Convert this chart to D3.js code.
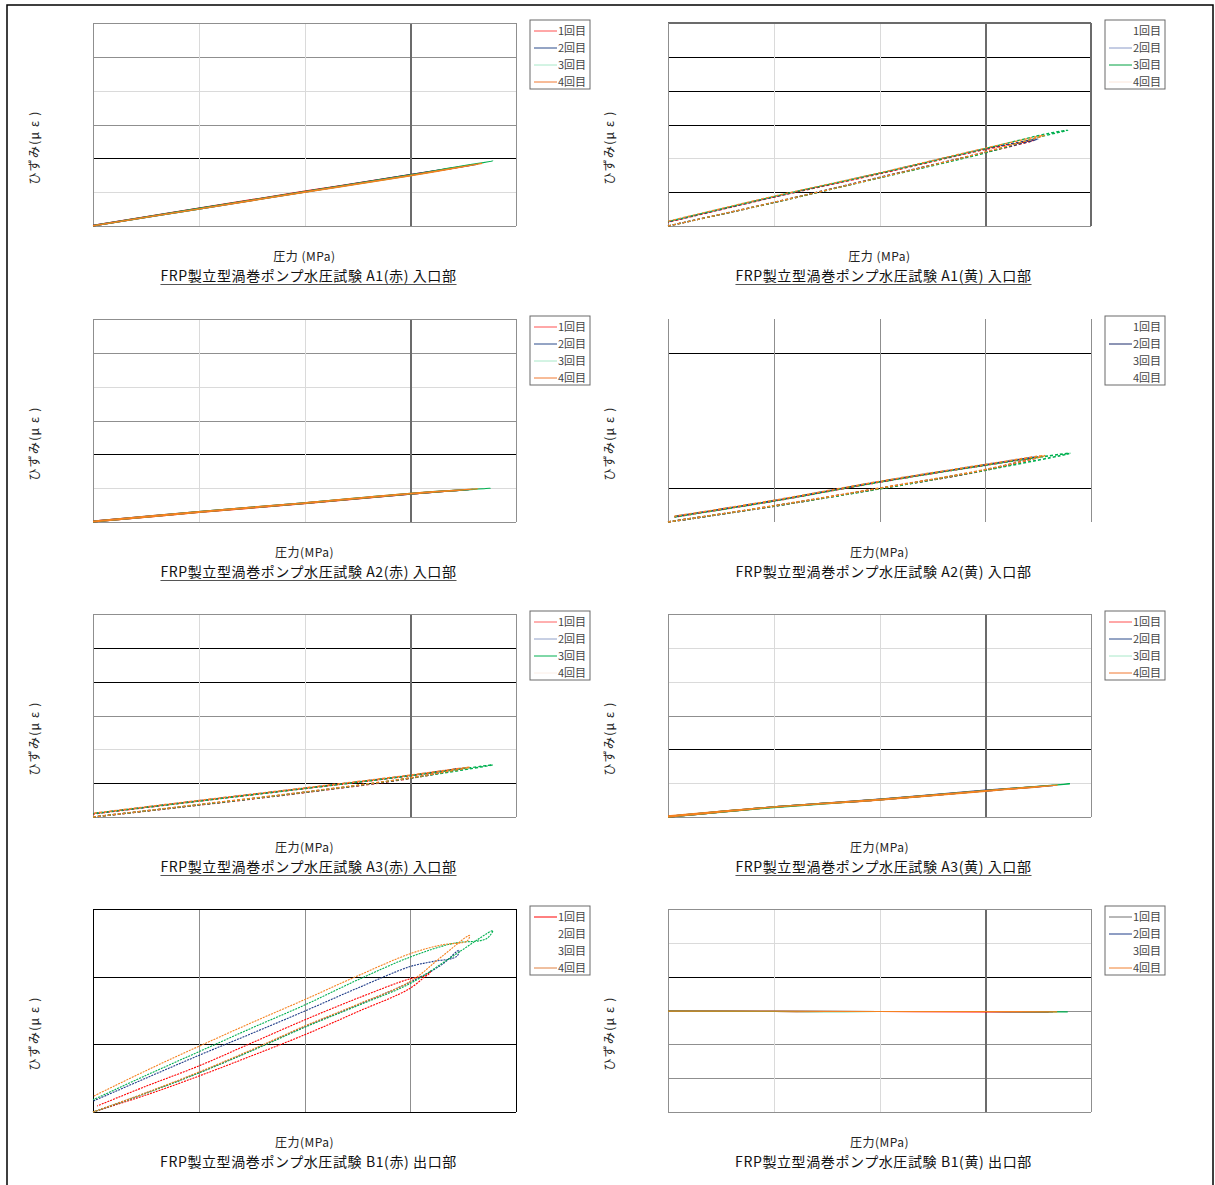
<!DOCTYPE html>
<html><head><meta charset="utf-8">
<script src="https://cdn.jsdelivr.net/npm/d3@7"></script>
<style>
body{margin:0;background:#fff}
svg{display:block}
text{font-family:"Noto Sans CJK JP","Noto Sans",sans-serif}
</style></head><body>
<svg id="c" width="1215" height="1185"></svg>
<script>
// ---- data: pressure (MPa) vs strain (με), one loop (load → unload) per run ----
const runNames = ["1回目", "2回目", "3回目", "4回目"];
const pressureDomain = [0, 2.0];
const pressureTicks = [0.5, 1.0, 1.5];

const titles = [
  "FRP製立型渦巻ポンプ水圧試験 A1(赤) 入口部",
  "FRP製立型渦巻ポンプ水圧試験 A1(黄) 入口部",
  "FRP製立型渦巻ポンプ水圧試験 A2(赤) 入口部",
  "FRP製立型渦巻ポンプ水圧試験 A2(黄) 入口部",
  "FRP製立型渦巻ポンプ水圧試験 A3(赤) 入口部",
  "FRP製立型渦巻ポンプ水圧試験 A3(黄) 入口部",
  "FRP製立型渦巻ポンプ水圧試験 B1(赤) 出口部",
  "FRP製立型渦巻ポンプ水圧試験 B1(黄) 出口部"
];
const xLabels = ["圧力 (MPa)", "圧力 (MPa)", "圧力(MPa)", "圧力(MPa)", "圧力(MPa)", "圧力(MPa)", "圧力(MPa)", "圧力(MPa)"];
const yLabel = "ひずみ(μ ε )";

const strainDomains = [[0,600],[0,600],[0,600],[0,600],[0,600],[0,600],[0,1500],[-300,300]];
const strainTicks = [
  [100,200,300,400,500],[100,200,300,400,500],[100,200,300,400,500],[100,200,300,400,500],
  [100,200,300,400,500],[100,200,300,400,500],[500,1000],[-200,-100,0,100,200]
];

const a1Red = [
  [[0,0],[0.5,51],[1.0,101],[1.5,150],[1.80,181],[1.5,152],[1.0,103],[0.5,53],[0,2]],
  [[0,0],[0.5,50],[1.0,100],[1.5,150],[1.82,183],[1.5,152],[1.0,102],[0.5,52],[0,2]],
  [[0,0],[0.5,50],[1.0,100],[1.5,149],[1.70,171],[1.89,192],[1.70,173],[1.5,151],[1.0,102],[0.5,52],[0,1]],
  [[0,0],[0.5,50],[1.0,99],[1.5,148],[1.84,185],[1.5,150],[1.0,101],[0.5,51],[0,1]]
];
const a1Yellow = [
  [[0,0],[0.5,69],[1.0,143],[1.5,217],[1.73,253],[1.5,226],[1.0,154],[0.5,85],[0,11]],
  [[0,0],[0.5,70],[1.0,144],[1.5,218],[1.75,257],[1.5,228],[1.0,156],[0.5,86],[0,12]],
  [[0,0],[0.5,69],[1.0,142],[1.5,216],[1.75,262],[1.89,283],[1.80,274],[1.5,229],[1.0,156],[0.5,87],[0,13]],
  [[0,0],[0.5,70],[1.0,143],[1.5,219],[1.78,268],[1.5,230],[1.0,157],[0.5,88],[0,14]]
];
const a2Red = [
  [[0,0],[0.5,28],[1.0,54],[1.5,82],[1.78,96],[1.5,84],[1.0,56],[0.5,30],[0,3]],
  [[0,0],[0.5,29],[1.0,55],[1.5,82],[1.80,97],[1.5,84],[1.0,57],[0.5,31],[0,3]],
  [[0,0],[0.5,29],[1.0,55],[1.5,83],[1.88,100],[1.5,85],[1.0,57],[0.5,31],[0,2]],
  [[0,0],[0.5,28],[1.0,55],[1.5,83],[1.82,98],[1.5,85],[1.0,57],[0.5,31],[0,3]]
];
const a2Yellow = [
  [[0,0],[0.5,47],[1.0,99],[1.5,153],[1.72,188],[1.5,168],[1.0,118],[0.5,62],[0.03,15]],
  [[0,0],[0.5,47],[1.0,99],[1.5,154],[1.75,192],[1.5,169],[1.0,119],[0.5,63],[0.03,16]],
  [[0,0],[0.5,47],[1.0,98],[1.5,153],[1.90,203],[1.5,168],[1.0,118],[0.5,62],[0.03,15]],
  [[0,0],[0.5,48],[1.0,100],[1.5,155],[1.78,196],[1.5,170],[1.0,120],[0.5,64],[0.03,17]]
];
const a3Red = [
  [[0,0],[0.5,35],[1.0,72],[1.5,114],[1.74,143],[1.5,122],[1.0,84],[0.5,47],[0,9]],
  [[0,0],[0.5,36],[1.0,73],[1.5,115],[1.76,145],[1.5,123],[1.0,85],[0.5,48],[0,10]],
  [[0,0],[0.5,36],[1.0,73],[1.5,115],[1.89,154],[1.5,122],[1.0,84],[0.5,47],[0,10]],
  [[0,0],[0.5,37],[1.0,74],[1.5,116],[1.78,147],[1.5,124],[1.0,86],[0.5,49],[0,11]]
];
const a3Yellow = [
  [[0,0],[0.5,29],[1.0,51],[1.5,77],[1.80,92],[1.5,78],[1.0,52],[0.5,30],[0,2]],
  [[0,0],[0.5,29],[1.0,51],[1.5,77],[1.82,93],[1.5,79],[1.0,53],[0.5,30],[0,2]],
  [[0,0],[0.5,28],[1.0,51],[1.5,77],[1.90,98],[1.5,78],[1.0,52],[0.5,30],[0,2]],
  [[0,0],[0.5,29],[1.0,50],[1.5,76],[1.84,94],[1.5,78],[1.0,52],[0.5,30],[0,3]]
];
const b1Red = [
  [[0,0],[0.25,125],[0.5,265],[0.75,415],[1.0,570],[1.25,740],[1.5,915],[1.60,1045],
   [1.58,1010],[1.5,985],[1.25,840],[1.0,680],[0.75,510],[0.5,340],[0.25,190],[0.02,45]],
  [[0,0],[0.25,140],[0.5,290],[0.75,455],[1.0,630],[1.25,790],[1.5,960],[1.65,1090],[1.73,1195],
   [1.72,1150],[1.6,1110],[1.5,1075],[1.25,915],[1.0,745],[0.75,580],[0.5,418],[0.25,250],[0,80]],
  [[0,0],[0.25,138],[0.5,288],[0.75,452],[1.0,625],[1.25,785],[1.5,950],[1.7,1150],[1.89,1340],
   [1.86,1280],[1.7,1245],[1.5,1145],[1.25,975],[1.0,790],[0.75,620],[0.5,445],[0.25,270],[0,90]],
  [[0,0],[0.25,142],[0.5,295],[0.75,460],[1.0,635],[1.25,795],[1.5,965],[1.65,1150],[1.78,1305],
   [1.77,1265],[1.65,1235],[1.5,1170],[1.25,1005],[1.0,830],[0.75,660],[0.5,485],[0.25,305],[0,115]]
];
const b1Yellow = [
  [[0,-2],[0.5,-3],[1.0,-3],[1.5,-4],[1.80,-4],[1.5,-4],[1.0,-3],[0.5,-3],[0,-2]],
  [[0,-2],[0.5,-2],[1.0,-3],[1.5,-3],[1.82,-4],[1.5,-3],[1.0,-3],[0.5,-2],[0,-2]],
  [[0,-2],[0.5,-3],[1.0,-3],[1.5,-3],[1.89,-4],[1.5,-3],[1.0,-3],[0.5,-3],[0,-2]],
  [[0,-2],[0.5,-2],[1.0,-3],[1.5,-3],[1.84,-4],[1.5,-3],[1.0,-3],[0.5,-2],[0,-2]]
];
const panelData = [a1Red, a1Yellow, a2Red, a2Yellow, a3Red, a3Yellow, b1Red, b1Yellow];

// ---- appearance ----
const runColors = ["#ff0000", "#1f3c88", "#00b050", "#f58220"];
// line codes: K black, D dark grey (heavy), G grey, L light grey, N none
const lineStyles = {
  K: {c: "#000", w: 1}, D: {c: "#6b6b6b", w: 1.8}, G: {c: "#8f8f8f", w: 1},
  L: {c: "#dadada", w: 1}, N: null
};
const panelStyles = [
  {h: "LKGLG", v: "LLD", top: "G", right: "G", left: "G", bottom: "G", dash: null, lw: 1.1,
   legend: ["#ff5050", "#2a4a8a", "#a8e8c8", "#f07830"]},
  {h: "KLKKK", v: "LLD", top: "D", right: "D", left: "G", bottom: "G", dash: "3,2", lw: 1.3,
   legend: [null, "#8a9ac8", "#00a040", "#fbe6da"]},
  {h: "LKGLG", v: "LLD", top: "G", right: "G", left: "G", bottom: "G", dash: null, lw: 1.1,
   legend: ["#ff5050", "#2a4a8a", "#a8e8c8", "#f07830"]},
  {h: "KNNNK", v: "GGG", top: "N", right: "G", left: "G", bottom: "N", dash: "3,2", lw: 1.6,
   legend: [null, "#1a2a6a", null, null]},
  {h: "KLGKK", v: "LLD", top: "G", right: "G", left: "G", bottom: "G", dash: "3,2", lw: 1.4,
   legend: ["#ff6060", "#90a0c8", "#00b050", "#fbeee6"]},
  {h: "LKGLL", v: "LLD", top: "G", right: "G", left: "G", bottom: "G", dash: null, lw: 1.3,
   legend: ["#ff5050", "#2a4a8a", "#a8e8c8", "#f07830"]},
  {h: "KK", v: "GGG", top: "K", right: "K", left: "K", bottom: "K", dash: "2,1", lw: 1.1,
   legend: ["#ff0000", null, null, "#e08040"]},
  {h: "GGGKL", v: "LLD", top: "G", right: "G", left: "G", bottom: "G", dash: null, lw: 1.2,
   legend: ["#707070", "#1f3c88", null, "#f08030"]}
];
const underlined = [true, true, true, false, true, true, false, false];

const W = 423, H = 203;
const colX = [93, 668];
const rowY = [23, 319, 614, 909];

const svg = d3.select("#c");
svg.append("rect").attr("x", 7).attr("y", 5).attr("width", 1206).attr("height", 1200)
  .attr("fill", "none").attr("stroke", "#000").attr("stroke-width", 1.5);

function styleLine(sel, code) {
  const s = lineStyles[code];
  if (!s) { sel.attr("stroke", "none"); return; }
  sel.attr("stroke", s.c).attr("stroke-width", s.w).attr("shape-rendering", "crispEdges");
}

panelData.forEach((runs, i) => {
  const st = panelStyles[i];
  const px = colX[i % 2], py = rowY[Math.floor(i / 2)];
  const x = d3.scaleLinear().domain(pressureDomain).range([0, W]);
  const y = d3.scaleLinear().domain(strainDomains[i]).range([H, 0]);
  const g = svg.append("g").attr("transform", `translate(${px},${py})`);

  // horizontal grid
  const gy = g.append("g")
    .call(d3.axisLeft(y).tickValues(strainTicks[i]).tickSize(-W).tickFormat(""));
  gy.select(".domain").remove();
  gy.selectAll(".tick line").each(function (d, j) { styleLine(d3.select(this), st.h[j]); });

  // vertical grid
  const gx = g.append("g").attr("transform", `translate(0,${H})`)
    .call(d3.axisBottom(x).tickValues(pressureTicks).tickSize(-H).tickFormat(""));
  gx.select(".domain").remove();
  gx.selectAll(".tick line").each(function (d, j) { styleLine(d3.select(this), st.v[j]); });

  // plot frame
  const [x0, x1] = x.range(), [y0, y1] = y.range();
  styleLine(g.append("line").attr("x1", x0).attr("x2", x1).attr("y1", y1).attr("y2", y1), st.top);
  styleLine(g.append("line").attr("x1", x0).attr("x2", x1).attr("y1", y0).attr("y2", y0), st.bottom);
  styleLine(g.append("line").attr("x1", x0).attr("x2", x0).attr("y1", y1).attr("y2", y0), st.left);
  styleLine(g.append("line").attr("x1", x1).attr("x2", x1).attr("y1", y1).attr("y2", y0), st.right);

  // hysteresis loops
  const line = d3.line().x(d => x(d[0])).y(d => y(d[1])).curve(d3.curveCatmullRom.alpha(0.5));
  runs.forEach((pts, k) => {
    g.append("path").attr("d", line(pts)).attr("fill", "none")
      .attr("stroke", runColors[k]).attr("stroke-width", st.lw)
      .attr("stroke-dasharray", st.dash);
  });

  // legend
  const lg = g.append("g").attr("transform", `translate(${W + 14},-3)`);
  lg.append("rect").attr("width", 60).attr("height", 69)
    .attr("fill", "#fff").attr("stroke", "#6a6a6a").attr("stroke-width", 1);
  runNames.forEach((name, k) => {
    const ly = 11 + k * 17;
    if (st.legend[k]) {
      lg.append("line").attr("x1", 4).attr("x2", 27).attr("y1", ly).attr("y2", ly)
        .attr("stroke", st.legend[k]).attr("stroke-width", 1);
    }
    lg.append("text").attr("x", 56).attr("y", ly + 4).attr("text-anchor", "end")
      .attr("font-size", 11).attr("fill", "#444").text(name);
  });

  // axis titles
  g.append("text").attr("x", x(1.0)).attr("y", H + 35).attr("text-anchor", "middle")
    .attr("font-size", 12).attr("letter-spacing", 0.5).attr("fill", "#222").text(xLabels[i]);
  g.append("text").attr("transform", `translate(-54,${H / 2 + 23}) rotate(-90)`)
    .attr("text-anchor", "middle").attr("font-size", 12).attr("letter-spacing", 1.2)
    .attr("fill", "#222").text(yLabel);

  // chart title
  const t = g.append("text").attr("x", x(1.0) + 4).attr("y", H + 55).attr("text-anchor", "middle")
    .attr("font-size", 14).attr("letter-spacing", 0.6).attr("fill", "#111").text(titles[i]);
  if (underlined[i]) {
    const bb = t.node().getBBox();
    g.append("line").attr("x1", bb.x).attr("x2", bb.x + bb.width)
      .attr("y1", H + 58.5).attr("y2", H + 58.5).attr("stroke", "#555").attr("stroke-width", 1);
  }
});
</script>
</body></html>
